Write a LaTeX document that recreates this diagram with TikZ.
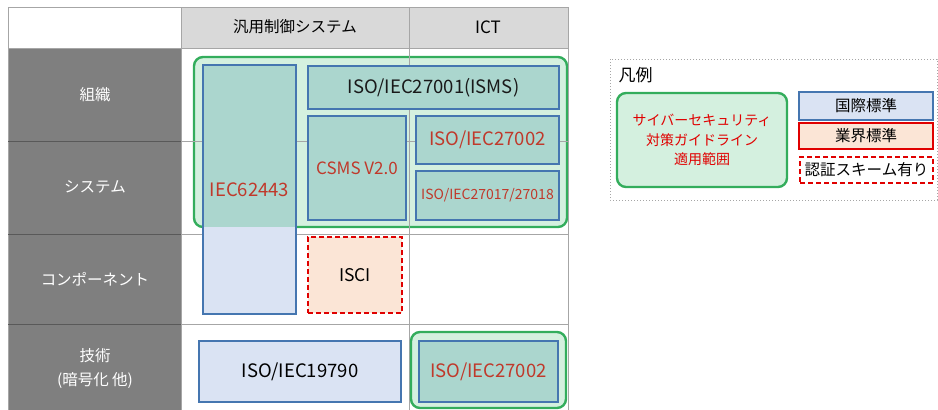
\documentclass[tikz,border=0pt]{standalone}
\usepackage{fontspec}
\setmainfont{Noto Sans CJK JP}
\usetikzlibrary{positioning}

\definecolor{gridgray}{HTML}{A6A6A6}
\definecolor{headgray}{HTML}{D9D9D9}
\definecolor{rowgray}{HTML}{7F7F7F}
\definecolor{teal}{HTML}{ABD6CE}
\definecolor{lightgreen}{HTML}{D4F0DF}
\definecolor{lightblue}{HTML}{DAE3F3}
\definecolor{lightorange}{HTML}{FBE5D6}
\definecolor{boxblue}{HTML}{4576B0}
\definecolor{scopegreen}{HTML}{33AD5C}
\definecolor{textred}{HTML}{C0392B}
\definecolor{dashred}{HTML}{E00000}

\tikzset{
  intl/.style={draw=boxblue, line width=2.2pt, fill=lightblue, inner sep=0pt, font=\fontsize{18.5}{21}\selectfont},
  inscope/.style={intl, fill=teal, text=textred},
  scopebox/.style={draw=scopegreen, line width=2.4pt, fill=lightgreen, rounded corners=9pt, inner sep=0pt},
  certbox/.style={draw=dashred, line width=2.6pt, dash pattern=on 5pt off 3pt, inner sep=0pt},
  rowlabel/.style={text=white, font=\fontsize{15.5}{24}\selectfont, align=center},
  collabel/.style={font=\fontsize{15.5}{18}\selectfont},
  legendtext/.style={font=\fontsize{15.5}{18}\selectfont}
}

\begin{document}
\begin{tikzpicture}[x=1pt,y=-1pt]
\useasboundingbox (0,0) rectangle (938,410);

% table background
\fill[headgray] (181,7) rectangle (568,48);
\fill[rowgray] (8,48) rectangle (181,410);

% guideline scope (big)
\node[scopebox, minimum width=373pt, minimum height=170pt] (scope) at (380.5,142) {};

% grid
\foreach \yy in {7,48,141,234,324}
  \draw[gridgray, line width=0.8pt] (8,\yy) -- (568,\yy);
\foreach \xx in {8,181,409,568}
  \draw[gridgray, line width=0.8pt] (\xx,7) -- (\xx,410);
\foreach \yy in {141,234,324}
  \draw[black!65, line width=0.8pt] (8,\yy) -- (181,\yy);

% headers
\node[collabel] (hctrl) at (295,27) {汎用制御システム};
\node[collabel, font=\fontsize{17}{18}\selectfont] (hict) at (488,27) {ICT};
\node[rowlabel] (rorg) at (95,95) {組織};
\node[rowlabel] (rsys) at (95,187) {システム};
\node[rowlabel] (rcomp) at (95,279) {コンポーネント};
\node[rowlabel] (rtech) at (95,369) {技術\\(暗号化 他)};

% IEC62443, partly inside the scope
\node[intl, minimum width=93pt, minimum height=249pt] (iec) at (249.5,189.5) {};
\fill[teal] (204.1,66.1) rectangle (294.9,227);
\node[text=textred, font=\fontsize{18.5}{21}\selectfont] at (iec.center) {IEC62443};

\node[inscope, text=black!90, minimum width=251pt, minimum height=43pt] (isms) at (433.5,87.5) {ISO/IEC27001(ISMS)};
\node[inscope, minimum width=98pt, minimum height=104pt, font=\fontsize{17}{19}\selectfont] (csms) at (357,168) {CSMS V2.0};
\node[inscope, minimum width=143pt, minimum height=48pt] (iso2a) at (487.5,140) {ISO/IEC27002};
\node[inscope, minimum width=143pt, minimum height=49pt, font=\fontsize{14}{16}\selectfont] (iso17) at (487.5,195.5) {ISO/IEC27017/27018};

\node[certbox, fill=lightorange, minimum width=94pt, minimum height=76pt, font=\fontsize{17.5}{20}\selectfont] (isci) at (355,275) {ISCI};

\node[intl, minimum width=202pt, minimum height=61pt] (iso197) at (300,371.5) {ISO/IEC19790};
\node[scopebox, minimum width=155pt, minimum height=76pt] (scope2) at (488.5,370) {};
\node[inscope, minimum width=139pt, minimum height=61pt] (iso2b) at (488.5,371.5) {ISO/IEC27002};

% legend
\draw[gridgray, line width=1pt, dotted] (610,59) rectangle (937,200);
\node[font=\fontsize{17}{20}\selectfont, anchor=west] (legend) at (615,75) {凡例};
\node[scopebox, minimum width=170pt, minimum height=94pt, text=dashred, align=center, font=\fontsize{14}{19.5}\selectfont] (lscope) at (702,140) {サイバーセキュリティ\\対策ガイドライン\\適用範囲};
\node[intl, legendtext, minimum width=134pt, minimum height=28pt] (lintl) at (866,106) {国際標準};
\node[intl, legendtext, draw=dashred, fill=lightorange, minimum width=134pt, minimum height=26pt] (lind) at (866,136) {業界標準};
\node[certbox, legendtext, fill=white, minimum width=133pt, minimum height=26pt] (lcert) at (866.5,170) {認証スキーム有り};
\end{tikzpicture}
\end{document}
